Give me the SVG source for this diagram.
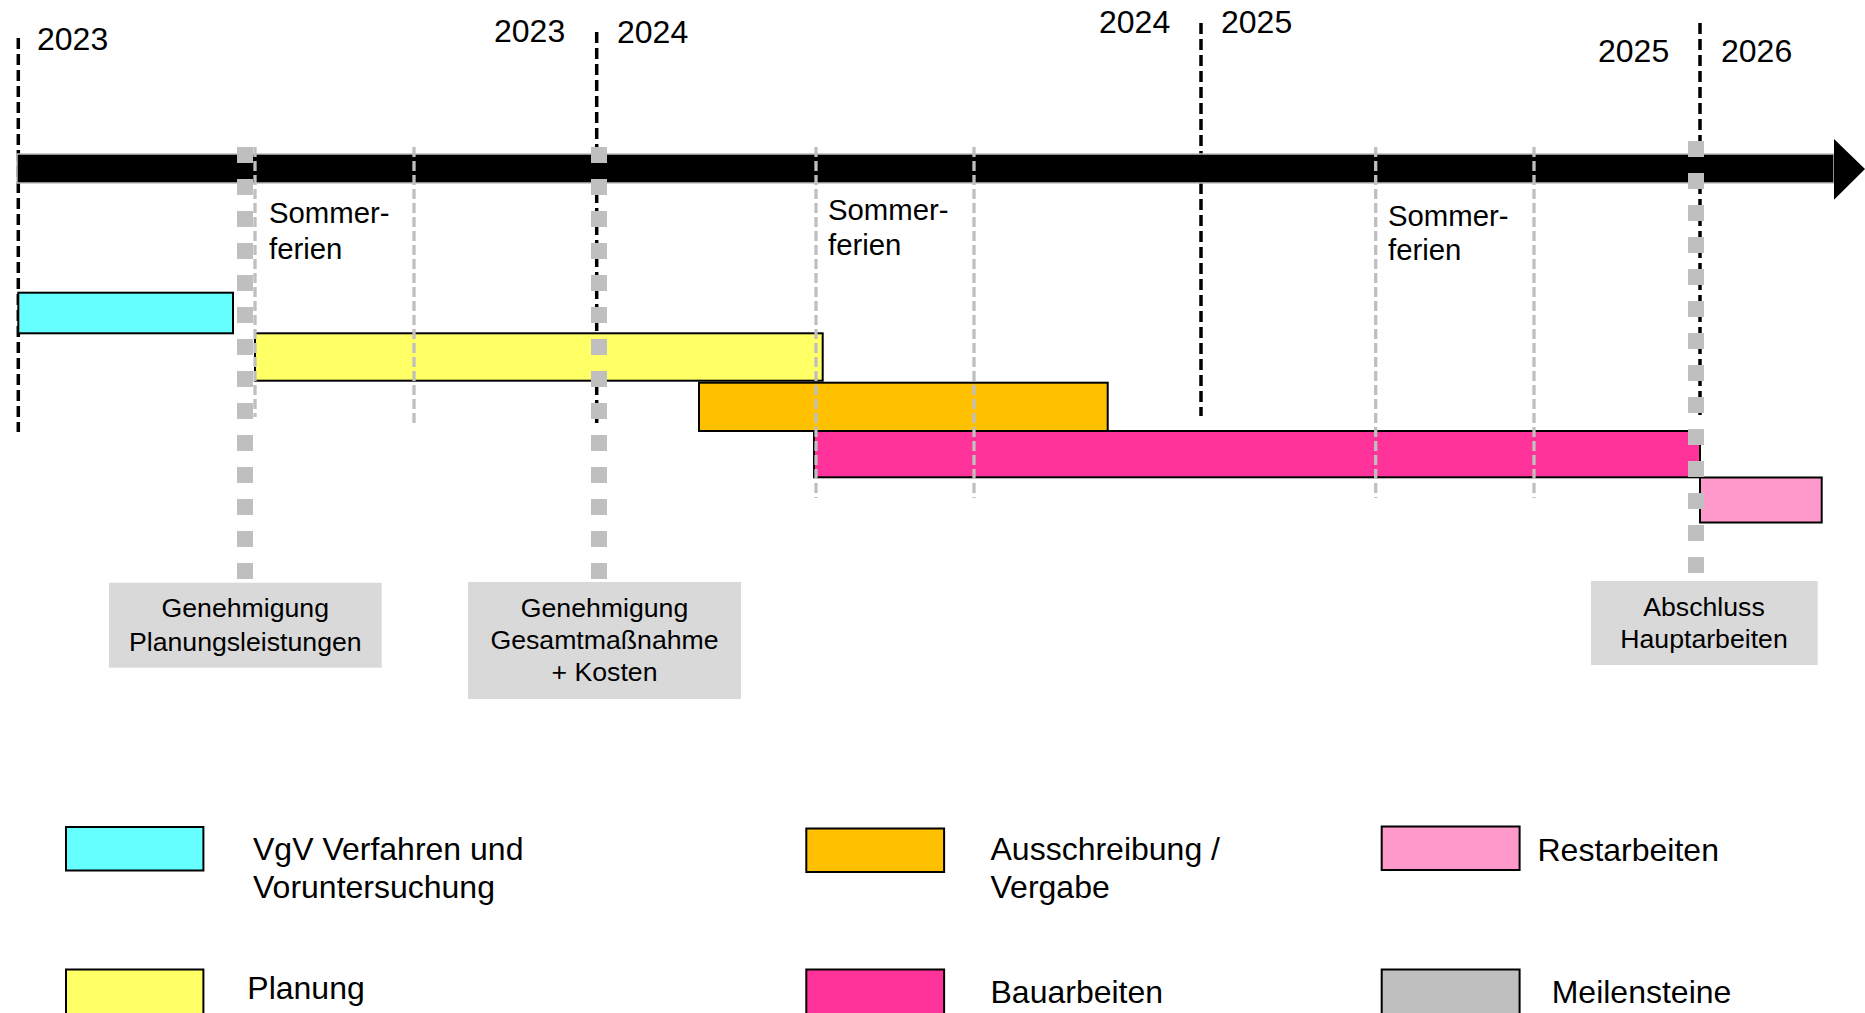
<svg xmlns="http://www.w3.org/2000/svg" width="1865" height="1013" viewBox="0 0 1865 1013">
<style>
text{font-family:"Liberation Sans",Arial,sans-serif;fill:#000}
.yr{font-size:32px}
.sf{font-size:29.33px}
.ms{font-size:26.67px;text-anchor:middle}
.lg{font-size:32px}
.bar{stroke:#000;stroke-width:2}
.yl{stroke:#000;stroke-width:3.5;stroke-dasharray:11 5;fill:none}
.gl{stroke:#BFBFBF;stroke-width:3.3;stroke-dasharray:10 4;fill:none}
.ml{stroke:#BFBFBF;stroke-width:16;stroke-dasharray:16 16;fill:none}
.box{fill:#D9D9D9}
</style>
<rect width="1865" height="1013" fill="#fff"/>

<g id="year-lines">
<line class="yl" x1="18.3" y1="38" x2="18.3" y2="432"/>
<line class="yl" x1="596.7" y1="32" x2="596.7" y2="423"/>
<line class="yl" x1="1201" y1="23" x2="1201" y2="416"/>
<line class="yl" x1="1700" y1="23" x2="1700" y2="415"/>
</g>

<g id="timeline">
<rect x="17" y="154" width="1817" height="29" fill="#000" stroke="#BFBFBF" stroke-width="1.5"/>
<polygon points="1834,139 1865,169 1834,199.7" fill="#000"/>
</g>

<g id="years">
<text class="yr" x="37" y="50">2023</text>
<text class="yr" x="494" y="42">2023</text>
<text class="yr" x="617" y="43">2024</text>
<text class="yr" x="1099" y="33">2024</text>
<text class="yr" x="1221" y="33">2025</text>
<text class="yr" x="1598" y="62">2025</text>
<text class="yr" x="1721" y="62">2026</text>
</g>

<g id="bars">
<rect id="bar-vgv" class="bar" x="18.3" y="292.7" width="214.7" height="40.6" fill="#66FFFF"/>
<rect id="bar-planung" class="bar" x="255" y="333.3" width="567.7" height="47.4" fill="#FFFF66"/>
<rect id="bar-ausschreibung" class="bar" x="699" y="382.7" width="408.7" height="48.3" fill="#FFC000"/>
<rect id="bar-bau" class="bar" x="814" y="431" width="886" height="46.3" fill="#FF3399"/>
<rect id="bar-rest" class="bar" x="1700" y="477.5" width="121.7" height="45" fill="#FF99CC"/>
</g>

<g id="summer-lines">
<line class="gl" x1="255" y1="147" x2="255" y2="417"/>
<line class="gl" x1="414" y1="147" x2="414" y2="423"/>
<line class="gl" x1="816" y1="147" x2="816" y2="498"/>
<line class="gl" x1="974" y1="147" x2="974" y2="498"/>
<line class="gl" x1="1375.7" y1="147" x2="1375.7" y2="498"/>
<line class="gl" x1="1534" y1="147" x2="1534" y2="498"/>
</g>

<g id="summer-labels">
<text class="sf" x="269" y="223">Sommer-</text>
<text class="sf" x="269" y="259">ferien</text>
<text class="sf" x="828" y="220">Sommer-</text>
<text class="sf" x="828" y="255">ferien</text>
<text class="sf" x="1388" y="226">Sommer-</text>
<text class="sf" x="1388" y="260">ferien</text>
</g>

<g id="connectors">
<line class="ml" x1="245" y1="147" x2="245" y2="579"/>
<line class="ml" x1="599" y1="147" x2="599" y2="579"/>
<line class="ml" x1="1696" y1="141" x2="1696" y2="573"/>
</g>

<g id="milestone-1">
<rect class="box" x="109" y="582.7" width="272.7" height="85"/>
<text class="ms" x="245.3" y="617.3">Genehmigung</text>
<text class="ms" x="245.3" y="650.7">Planungsleistungen</text>
</g>
<g id="milestone-2">
<rect class="box" x="468" y="582" width="273" height="117"/>
<text class="ms" x="604.5" y="617.3">Genehmigung</text>
<text class="ms" x="604.5" y="649.3">Gesamtmaßnahme</text>
<text class="ms" x="604.5" y="681">+ Kosten</text>
</g>
<g id="milestone-3">
<rect class="box" x="1591" y="581" width="226.7" height="84"/>
<text class="ms" x="1704" y="616">Abschluss</text>
<text class="ms" x="1704" y="648">Hauptarbeiten</text>
</g>

<g id="legend">
<g id="legend-vgv">
<rect class="bar" x="66" y="827" width="137.4" height="43.5" fill="#66FFFF"/>
<text class="lg" x="253" y="860">VgV Verfahren und</text>
<text class="lg" x="253" y="898">Voruntersuchung</text>
</g>
<g id="legend-ausschreibung">
<rect class="bar" x="806.3" y="828.5" width="137.8" height="43.5" fill="#FFC000"/>
<text class="lg" x="990.5" y="860">Ausschreibung /</text>
<text class="lg" x="990.5" y="898">Vergabe</text>
</g>
<g id="legend-rest">
<rect class="bar" x="1381.7" y="826.5" width="137.9" height="43.5" fill="#FF99CC"/>
<text class="lg" x="1537.5" y="861">Restarbeiten</text>
</g>
<g id="legend-planung">
<rect class="bar" x="66" y="969.5" width="137.4" height="46" fill="#FFFF66"/>
<text class="lg" x="247.3" y="999">Planung</text>
</g>
<g id="legend-bau">
<rect class="bar" x="806.3" y="969.5" width="137.8" height="46" fill="#FF3399"/>
<text class="lg" x="990.5" y="1003">Bauarbeiten</text>
</g>
<g id="legend-meilensteine">
<rect class="bar" x="1381.7" y="969.5" width="137.9" height="46" fill="#BFBFBF"/>
<text class="lg" x="1551.7" y="1003">Meilensteine</text>
</g>
</g>
</svg>
